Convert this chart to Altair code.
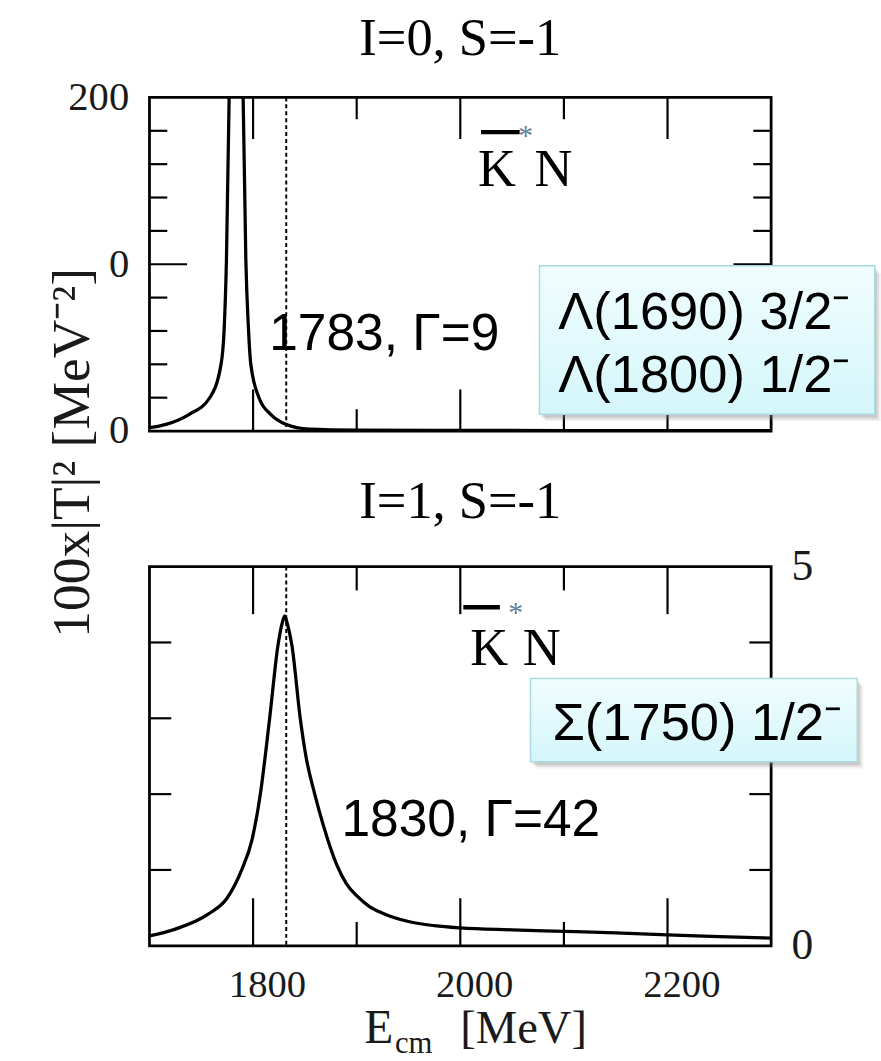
import altair as alt
import pandas as pd

# ---------------- data ----------------
# upper panel: I=0, S=-1  (|T|^2 x100, MeV^-2)
top_E = [1700, 1716, 1738, 1758, 1769, 1772, 1774.3, 1776.9, 1783.5, 1790.4, 1793, 1795.5,
         1797.8, 1805.8, 1817, 1831.5, 1854, 1900, 2000, 2100, 2200, 2300]
top_v = [2.0, 4.0, 9.9, 19.8, 39.8, 60, 103, 200, 650, 200, 103, 62,
         40, 19.8, 10, 4.1, 1.2, 0.6, 0.4, 0.3, 0.25, 0.2]

# lower panel: I=1, S=-1
bot_E = [1700, 1725, 1757, 1775, 1789, 1799, 1807, 1816, 1824, 1828, 1830.5, 1833, 1837.5,
         1845.5, 1851, 1859.5, 1868, 1881, 1890, 1900, 1912, 1925, 1950, 1975, 2000, 2050,
         2100, 2150, 2200, 2250, 2300]
bot_v = [0.13, 0.22, 0.42, 0.63, 1.0, 1.4, 2.0, 3.0, 3.96, 4.25, 4.35, 4.25, 3.96,
         3.0, 2.5, 2.0, 1.58, 1.06, 0.82, 0.66, 0.52, 0.43, 0.32, 0.265, 0.235, 0.21,
         0.19, 0.17, 0.145, 0.12, 0.10]

threshold_E = [1832]          # dashed K*bar N threshold line

x_major = [1800, 2000, 2200]
x_minor = [1900, 2100]
x_label_vals = [1800, 2000, 2200]

top_y_minor = [20, 40, 60, 80, 120, 140, 160, 180]
top_y_major = [100]
top_y_vals = [0, 100, 200]
top_y_text = ["0", "0", "200"]

bot_y_minor = [1, 2, 3, 4]
bot_y_vals = [0, 5]
bot_y_text = ["0", "5"]

panel_titles = ["I=0, S=-1", "I=1, S=-1"]
top_pole = ["1783, Γ=9"]
bot_pole = ["1830, Γ=42"]
top_states = ["Λ(1690) 3/2⁻", "Λ(1800) 1/2⁻"]
bot_states = ["Σ(1750) 1/2⁻"]
channel_K = ["K"]
channel_N = ["N"]
channel_star = ["*"]
y_title = ["100x|T|² [MeV⁻²]"]
x_title_main = ["E"]
x_title_sub = ["cm"]
x_title_unit = ["[MeV]"]

# ---------------- styling / layout ----------------
SERIF = "Liberation Serif"
SANS = "Liberation Sans"
W, H1, H2, GAP = 628, 337, 383, 137
LEFT, TOP = 151, 93

xs = alt.Scale(domain=[1700, 2300], nice=False, zero=False)
ys1 = alt.Scale(domain=[0, 200], nice=False, zero=False)
ys2 = alt.Scale(domain=[0, 5], nice=False, zero=False)


def label_expr(vals, texts):
    expr = "''"
    for v, t in zip(vals, texts):
        expr = f"datum.value == {v} ? '{t}' : ({expr})"
    return expr


lab = dict(ticks=False, domain=False, grid=False, title=None, labelFont=SERIF,
           labelColor="#1a1a1a", labelOverlap=False, labelFlush=False)

ax_y_top = alt.Axis(values=top_y_vals, labelExpr=label_expr(top_y_vals, top_y_text),
                    labelPadding=21, labelFontSize=41, **lab)
ax_x_bot = alt.Axis(values=x_label_vals, format="d", labelOffset=14, labelPadding=20,
                    labelFontSize=39, **lab)
ax_y_bot = alt.Axis(orient="right", values=bot_y_vals,
                    labelExpr=label_expr(bot_y_vals, bot_y_text), labelPadding=20,
                    labelFontSize=44, **lab)

box_fill = alt.Gradient(
    gradient="linear",
    stops=[alt.GradientStop(color="#f1fdfe", offset=0),
           alt.GradientStop(color="#d4f6fa", offset=1)],
    x1=0, x2=0, y1=0, y2=1)


def panel(E, v, ys, ax_x, ax_y, H, maj_len, min_len, ymin_ticks, ymaj_ticks, ytick_len,
          ymaj_len, title, title_y, pole, pole_pos, states, state_pos, line_gap,
          box, kpos, bar, star_pos, extra=()):
    X = lambda f="E": alt.X(f"{f}:Q", scale=xs, axis=ax_x)
    Y = lambda f="v": alt.Y(f"{f}:Q", scale=ys, axis=ax_y)
    layers = []
    one = pd.DataFrame({"a": [0]})

    # curve
    layers.append(alt.Chart(pd.DataFrame({"E": E, "v": v})).mark_line(
        clip=True, color="black", strokeWidth=3.3, interpolate="monotone").encode(x=X(), y=Y()))
    # threshold
    layers.append(alt.Chart(pd.DataFrame({"E": threshold_E})).mark_rule(
        color="black", strokeWidth=2, strokeDash=[4, 3]).encode(
        x=X(), y=alt.value(0), y2=alt.value(H)))
    # x ticks (inward, top and bottom)
    for vals, L in ((x_major, maj_len), (x_minor, min_len)):
        d = pd.DataFrame({"E": vals})
        layers.append(alt.Chart(d).mark_rule(color="black", strokeWidth=2.2).encode(
            x=X(), y=alt.value(0), y2=alt.value(L)))
        layers.append(alt.Chart(d).mark_rule(color="black", strokeWidth=2.2).encode(
            x=X(), y=alt.value(H - L), y2=alt.value(H)))
    # y ticks (inward, left and right)
    for vals, L in ((ymin_ticks, ytick_len), (ymaj_ticks, ymaj_len)):
        if not vals:
            continue
        d = pd.DataFrame({"v": vals})
        layers.append(alt.Chart(d).mark_rule(color="black", strokeWidth=2.2).encode(
            y=Y(), x=alt.value(0), x2=alt.value(L)))
        layers.append(alt.Chart(d).mark_rule(color="black", strokeWidth=2.2).encode(
            y=Y(), x=alt.value(W - L), x2=alt.value(W)))
    # frame
    layers.append(alt.Chart(one).mark_rect(filled=False, color="black", strokeWidth=2.8).encode(
        x=alt.value(0), x2=alt.value(W), y=alt.value(0), y2=alt.value(H)))
    # title
    layers.append(alt.Chart(pd.DataFrame({"t": [title]})).mark_text(
        font=SERIF, fontSize=53, align="center", baseline="alphabetic", color="black").encode(
        x=alt.value(W / 2), y=alt.value(title_y), text="t:N"))
    # channel label  K-bar * N
    layers.append(alt.Chart(pd.DataFrame({"E": [kpos[0]], "v": [kpos[2]], "t": channel_K})).mark_text(
        font=SERIF, fontSize=53, align="left", baseline="alphabetic", color="black").encode(
        x=X(), y=Y(), text="t:N"))
    layers.append(alt.Chart(pd.DataFrame({"E": [kpos[1]], "v": [kpos[2]], "t": channel_N})).mark_text(
        font=SERIF, fontSize=53, align="left", baseline="alphabetic", color="black").encode(
        x=X(), y=Y(), text="t:N"))
    layers.append(alt.Chart(pd.DataFrame({"E": [bar[0]], "E2": [bar[1]], "v": [bar[2]]})).mark_rule(
        color="black", strokeWidth=4.5).encode(x=X(), x2="E2:Q", y=Y()))
    layers.append(alt.Chart(pd.DataFrame({"E": [star_pos[0]], "v": [star_pos[1]], "t": channel_star})).mark_text(
        font=SERIF, fontSize=30, align="center", baseline="middle", dy=4,
        color="#5f7f99").encode(x=X(), y=Y(), text="t:N"))
    # pole annotation
    layers.append(alt.Chart(pd.DataFrame({"E": [pole_pos[0]], "v": [pole_pos[1]], "t": pole})).mark_text(
        font=SANS, fontSize=52, align="left", baseline="alphabetic", color="black").encode(
        x=X(), y=Y(), text="t:N"))
    # resonance box with shadow
    bd = pd.DataFrame({"E": [box[0]], "E2": [box[1]], "v": [box[2]], "v2": [box[3]]})
    for off, op in ((6, 0.12), (4, 0.18), (2, 0.22)):
        layers.append(alt.Chart(bd).mark_rect(
            color="#808080", opacity=op, xOffset=off, x2Offset=off, yOffset=off + 1,
            y2Offset=off + 1).encode(x=X(), x2="E2:Q", y=Y(), y2="v2:Q"))
    layers.append(alt.Chart(bd).mark_rect(
        fill=box_fill, stroke="#a9dce1", strokeWidth=1.5).encode(
        x=X(), x2="E2:Q", y=Y(), y2="v2:Q"))
    sd = pd.DataFrame({"E": [state_pos[0]] * len(states), "t": states,
                       "v": [state_pos[1] - i * line_gap for i in range(len(states))]})
    layers.append(alt.Chart(sd).mark_text(
        font=SANS, fontSize=53, align="left", baseline="alphabetic", color="black").encode(
        x=X(), y=Y(), text="t:N"))
    layers.extend(extra)
    return alt.layer(*layers).properties(width=W, height=H)


# invisible anchor at the page corner, so the plot lands at (LEFT, TOP)
anchor = alt.Chart(pd.DataFrame({"a": [0]})).mark_rule(opacity=0).encode(
    x=alt.value(-LEFT), x2=alt.value(-LEFT), y=alt.value(-TOP), y2=alt.value(-TOP + 1))

top = panel(top_E, top_v, ys1, None, ax_y_top, H1, 42, 22, top_y_minor, top_y_major, 18, 38,
            panel_titles[0], 50 - TOP, top_pole, (1815.6, 48.7), top_states, (2094.5, 61.1), 37.4,
            (2076.4, 2400, 99.1, 10.1), (2017.2, 2071.7, 147.2), (2020, 2057.3, 179.2),
            (2063, 179.2), extra=[anchor])

B0 = TOP + H1 + GAP
ytitle = alt.Chart(pd.DataFrame({"t": y_title})).mark_text(
    font=SERIF, fontSize=54, angle=270, align="center", baseline="alphabetic",
    color="#1a1a1a").encode(x=alt.value(90 - LEFT), y=alt.value(452 - B0), text="t:N")
xt1 = alt.Chart(pd.DataFrame({"t": x_title_main})).mark_text(
    font=SERIF, fontSize=48, align="left", baseline="alphabetic", color="#1a1a1a").encode(
    x=alt.value(368 - LEFT), y=alt.value(1048 - B0), text="t:N")
xt2 = alt.Chart(pd.DataFrame({"t": x_title_sub})).mark_text(
    font=SERIF, fontSize=31, align="left", baseline="alphabetic", color="#1a1a1a").encode(
    x=alt.value(399 - LEFT), y=alt.value(1058 - B0), text="t:N")
xt3 = alt.Chart(pd.DataFrame({"t": x_title_unit})).mark_text(
    font=SERIF, fontSize=47, align="left", baseline="alphabetic", color="#1a1a1a").encode(
    x=alt.value(465 - LEFT), y=alt.value(1048 - B0), text="t:N")

bottom = panel(bot_E, bot_v, ys2, ax_x_bot, ax_y_bot, H2, 48, 24, bot_y_minor, [], 22, 22,
               panel_titles[1], 518 - B0, bot_pole, (1885.3, 1.449), bot_states, (2088.9, 2.715), 0.8,
               (2067.8, 2383.1, 3.525, 2.428), (2009.6, 2060.2, 3.708), (2002.9, 2038.2, 4.465),
               (2053.5, 4.44), extra=[ytitle, xt1, xt2, xt3])

chart = alt.vconcat(top, bottom, spacing=GAP, bounds="flush").resolve_scale(
    x="independent", y="independent").resolve_axis(x="independent", y="independent").properties(
    padding={"left": 0, "top": 0, "right": 0, "bottom": 0},
    background="white").configure_view(stroke=None)

chart.save("out.html", embed_options={"renderer": "svg", "actions": False})
